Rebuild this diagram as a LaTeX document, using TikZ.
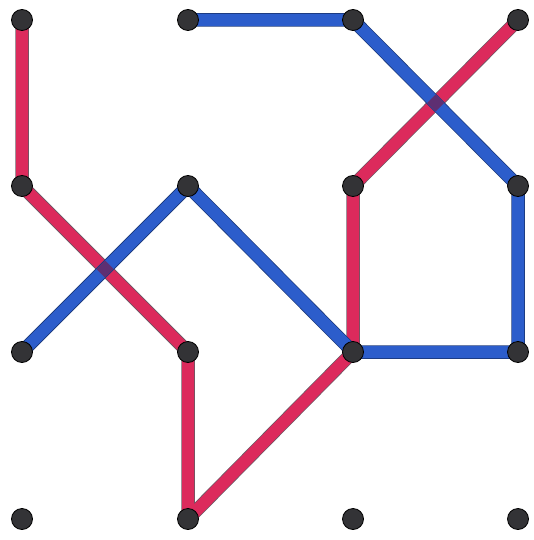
\documentclass[tikz,border=0pt]{standalone}
\definecolor{redline}{HTML}{DC2A5C}
\definecolor{blueline}{HTML}{2C5DCB}
\definecolor{crossc}{HTML}{5E2F72}
\definecolor{dotfill}{HTML}{333336}
\definecolor{edge}{HTML}{3A2030}
\begin{document}
\begin{tikzpicture}[x=1pt,y=-1pt,
  dotnode/.style={circle,fill=dotfill,draw=black,line width=0.8pt,minimum size=21pt,inner sep=0pt},
  outl/.style={line width=13.5pt,line cap=round,line join=round,draw=edge!75},
  redp/.style={line width=12pt,line cap=round,line join=round,draw=redline},
  bluep/.style={line width=12pt,line cap=round,line join=round,draw=blueline},
  crosspatch/.style={fill=crossc}]
\useasboundingbox (0,0) rectangle (533,540);
% grid coordinates
\foreach \i/\x in {1/22,2/188,3/353,4/518}{
  \foreach \j/\y in {1/20,2/186,3/352,4/519}{
    \coordinate (p\i\j) at (\x,\y);
  }
}
% red path
\draw[outl] (p11) -- (p12) -- (p23) -- (p24) -- (p33) -- (p32) -- (p41);
\draw[redp] (p11) -- (p12) -- (p23) -- (p24) -- (p33) -- (p32) -- (p41);
% blue path
\draw[outl,draw=blueline!60!black] (p21) -- (p31) -- (p42) -- (p43) -- (p33) -- (p22) -- (p13);
\draw[bluep] (p21) -- (p31) -- (p42) -- (p43) -- (p33) -- (p22) -- (p13);
% crossings
\coordinate (c1) at (intersection of p12--p23 and p13--p22);
\coordinate (c2) at (intersection of p32--p41 and p31--p42);
\foreach \c in {c1,c2}{
  \fill[crosspatch] (\c) ++(8.5,0) -- ++(-8.5,8.5) -- ++(-8.5,-8.5) -- ++(8.5,-8.5) -- cycle;
}
% dots
\foreach \i in {1,2,3,4}{
  \foreach \j in {1,2,3,4}{
    \node[dotnode] (d\i\j) at (p\i\j) {};
  }
}
\end{tikzpicture}
\end{document}
